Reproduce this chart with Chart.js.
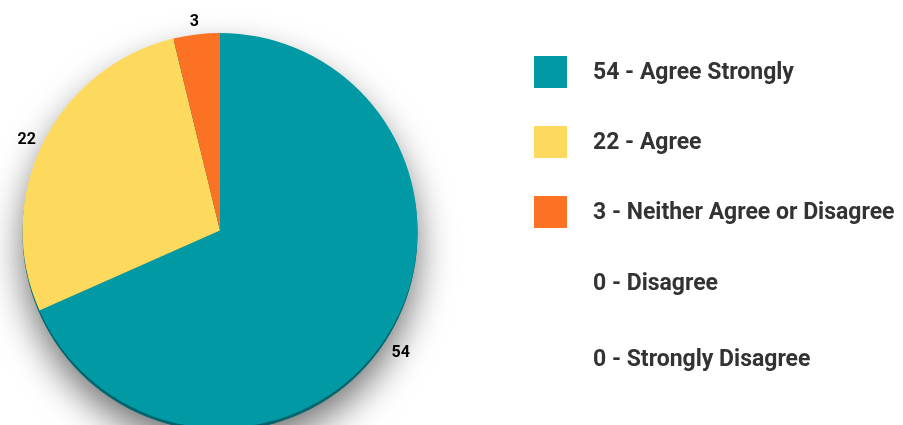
<!DOCTYPE html>
<html>
<head>
<meta charset="utf-8">
<script src="https://cdn.jsdelivr.net/npm/chart.js@4"></script>
<style>
  html, body { margin: 0; padding: 0; background: #fff; overflow: hidden; }
  #wrap { width: 903px; height: 425px; overflow: hidden; }
</style>
</head>
<body>
<div id="wrap"><canvas id="myChart" width="903" height="440"></canvas></div>
<script>
// chart data
const categories = ['Agree Strongly', 'Agree', 'Neither Agree or Disagree', 'Disagree', 'Strongly Disagree'];
const counts = [54, 22, 3, 0, 0];
const sliceColors = ['#0099a4', '#fdda5e', '#fb7224', '#9e9e9e', '#5a5a5a'];

// soft drop shadow + darker rim under the pie
const shadowPlugin = {
  id: 'pieShadow',
  beforeDatasetsDraw(chart) {
    const arc = chart.getDatasetMeta(0).data[0];
    if (!arc) return;
    const ctx = chart.ctx;
    ctx.save();
    ctx.shadowColor = 'rgba(0,0,0,0.55)';
    ctx.shadowBlur = 36;
    ctx.shadowOffsetY = 16;
    ctx.fillStyle = '#00656d';
    ctx.beginPath();
    ctx.arc(arc.x, arc.y + 3, arc.outerRadius, 0, Math.PI * 2);
    ctx.fill();
    ctx.restore();
  }
};

// value labels outside the slices + legend on the right
const labelPlugin = {
  id: 'outsideLabels',
  afterDatasetsDraw(chart) {
    const ctx = chart.ctx;
    const meta = chart.getDatasetMeta(0);
    ctx.save();
    ctx.font = 'bold 16px Roboto';
    ctx.fillStyle = '#000';
    ctx.textAlign = 'center';
    ctx.textBaseline = 'middle';
    meta.data.forEach(function(arc, i) {
      if (!counts[i]) return;
      const mid = (arc.startAngle + arc.endAngle) / 2;
      const r = arc.outerRadius + 18;
      ctx.fillText(String(counts[i]), arc.x + Math.cos(mid) * r, arc.y + Math.sin(mid) * r + 5);
    });

    // legend
    const rowY = [72, 142, 212, 283, 359];
    ctx.font = 'bold 23px Roboto';
    ctx.textAlign = 'left';
    categories.forEach(function(cat, i) {
      if (counts[i] > 0) {
        ctx.fillStyle = sliceColors[i];
        ctx.fillRect(534, rowY[i] - 16, 33, 32);
      }
      ctx.fillStyle = '#333';
      ctx.fillText(counts[i] + ' - ' + cat, 593, rowY[i] + 1);
    });
    ctx.restore();
  }
};

const ctx = document.getElementById('myChart').getContext('2d');
const chart = new Chart(ctx, {
  type: 'pie',
  data: {
    labels: categories,
    datasets: [{
      data: counts,
      backgroundColor: sliceColors,
      borderWidth: 0
    }]
  },
  options: {
    responsive: false,
    animation: false,
    layout: { padding: { left: 22, right: 485, top: 33, bottom: 12 } },
    plugins: {
      legend: { display: false },
      tooltip: { enabled: false }
    }
  },
  plugins: [shadowPlugin, labelPlugin]
});
</script>
</body>
</html>
